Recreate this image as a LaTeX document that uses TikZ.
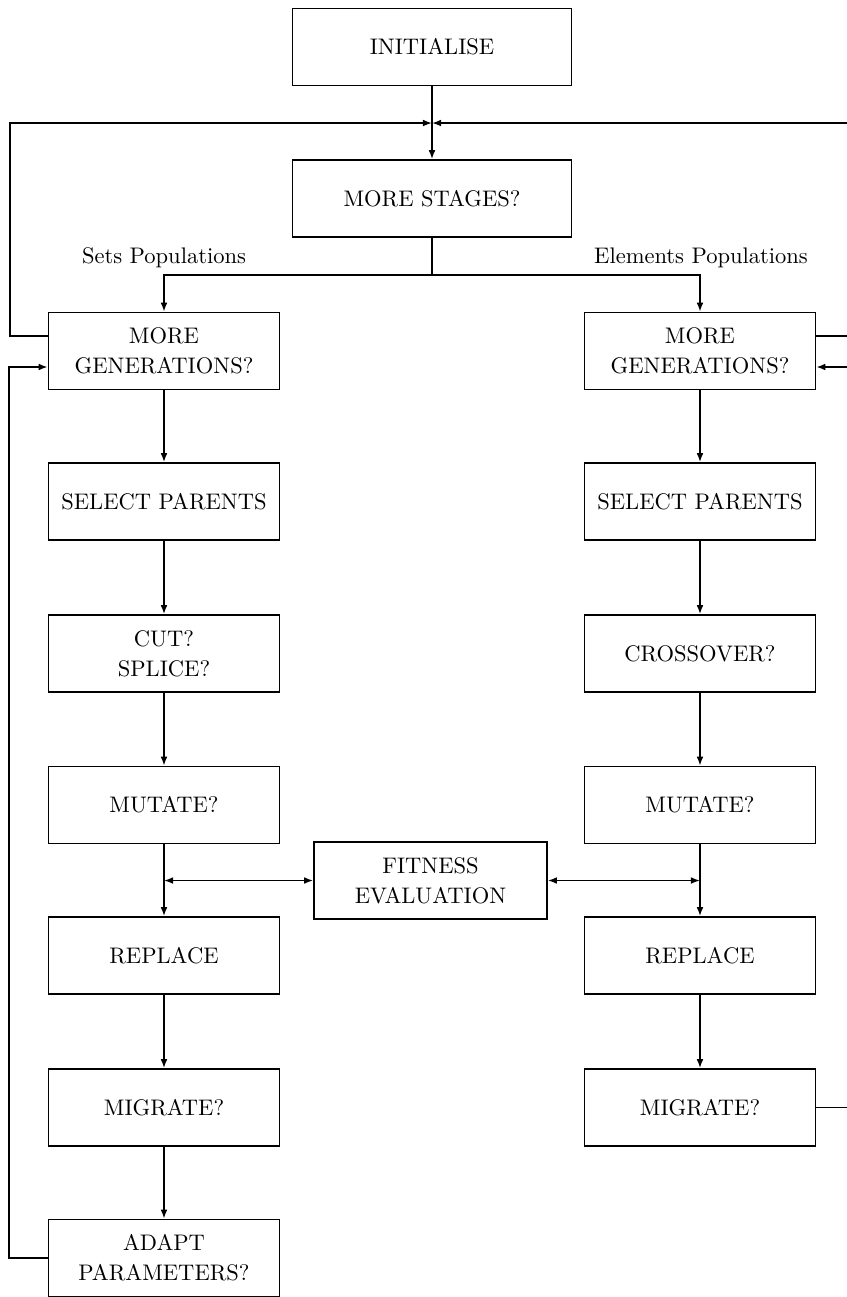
\documentclass[tikz,border=0pt]{standalone}
\usetikzlibrary{arrows.meta}
\begin{document}
\begin{tikzpicture}[
  x=0.444pt, y=-0.444pt,
  every node/.style={font=\fontsize{10}{13.3}\selectfont},
  box/.style={draw, line width=0.7pt, align=center, inner sep=0pt,
    minimum width={231*0.444pt}, minimum height={77*0.444pt}},
  wide/.style={box, minimum width={279*0.444pt}},
  line/.style={line width=0.7pt},
  arr/.style={line, -{Latex[length=4pt,width=3pt]}},
  biarr/.style={line, {Latex[length=4pt,width=3pt]}-{Latex[length=4pt,width=3pt]}}
]
\useasboundingbox (0,0) rectangle (847,1297);

% top of the flow
\node[wide] (init)   at (432,47)  {INITIALISE};
\node[wide] (stages) at (432,198.5) {MORE STAGES?};

% sets populations column
\node[box] (mgL)  at (164,351)    {MORE\\GENERATIONS?};
\node[box] (spL)  at (164,501.5)  {SELECT PARENTS};
\node[box] (cutL) at (164,653.5)  {CUT?\\SPLICE?};
\node[box] (mutL) at (164,805)    {MUTATE?};
\node[box] (repL) at (164,955.5)  {REPLACE};
\node[box] (migL) at (164,1107.5) {MIGRATE?};
\node[box] (adapt) at (164,1258) {ADAPT\\PARAMETERS?};

% elements populations column
\node[box] (mgR)  at (700,351)    {MORE\\GENERATIONS?};
\node[box] (spR)  at (700,501.5)  {SELECT PARENTS};
\node[box] (coR)  at (700,653.5)  {CROSSOVER?};
\node[box] (mutR) at (700,805)    {MUTATE?};
\node[box] (repR) at (700,955.5)  {REPLACE};
\node[box] (migR) at (700,1107.5) {MIGRATE?};

% shared evaluation
\node[box, minimum width={233*0.444pt}] (fit) at (430.5,880.5) {FITNESS\\EVALUATION};

% branch labels
\node (lblL) at (164,258) {Sets Populations};
\node (lblR) at (701,258) {Elements Populations};

% helper points
\coordinate (J)  at (432,123);
\coordinate (LT) at (10,123);
\coordinate (RT) at (850,123);
\coordinate (split) at (432,275);

% main spine
\draw[arr] (init.south) -- (stages.north);
\draw[line] (stages.south) -- (split);
\draw[arr] (split) -| (mgL.north);
\draw[arr] (split) -| (mgR.north);

% stage loops back to the junction
\draw[arr] ([yshift=6.66pt]mgL.west) -| (LT) -- (J);
\draw[arr] ([yshift=6.66pt]mgR.east) -| (RT) -- (J);

% left column
\draw[arr] (mgL) -- (spL);
\draw[arr] (spL) -- (cutL);
\draw[arr] (cutL) -- (mutL);
\draw[arr] (mutL) -- (repL);
\draw[arr] (repL) -- (migL);
\draw[arr] (migL) -- (adapt);

% right column
\draw[arr] (mgR) -- (spR);
\draw[arr] (spR) -- (coR);
\draw[arr] (coR) -- (mutR);
\draw[arr] (mutR) -- (repR);
\draw[arr] (repR) -- (migR);

% fitness exchange
\draw[biarr] (fit.west) -- (fit.west -| mutL.south);
\draw[biarr] (fit.east) -- (fit.east -| mutR.south);

% generation loops
\draw[arr] (adapt.west) -- (adapt.west -| 9,0) |- ([yshift=-7.1pt]mgL.west);
\draw[arr] (migR.east) -- (migR.east -| RT) |- ([yshift=-7.1pt]mgR.east);
\end{tikzpicture}
\end{document}
